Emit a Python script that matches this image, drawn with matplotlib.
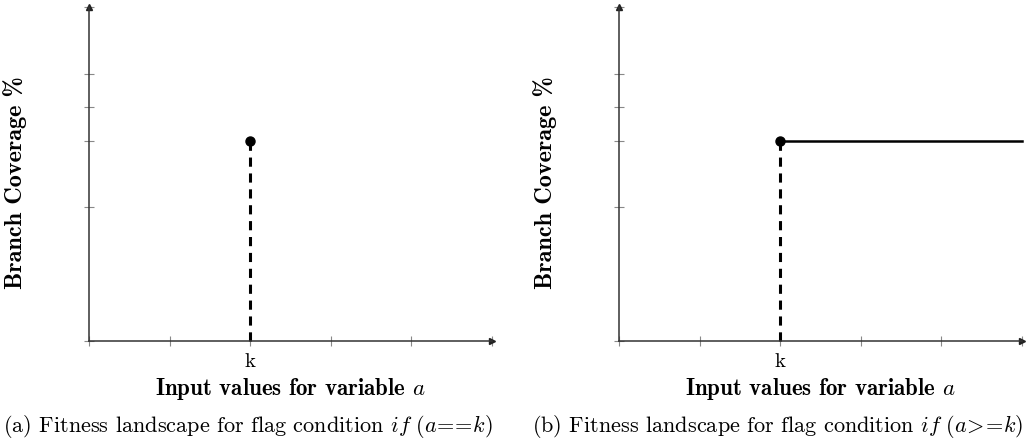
import matplotlib
matplotlib.use("Agg")
import matplotlib.pyplot as plt

plt.rcParams['font.family'] = ['cmr10', 'DejaVu Serif']
plt.rcParams['mathtext.fontset'] = 'cm'
plt.rcParams['axes.unicode_minus'] = False

# ---- data
x_ticks = [0, 1, 2, 3, 4, 5]
x_labels = ['', '', 'k', '', '', '']
y_ticks = [0, 40, 60, 70, 80, 100]
k_pos = 2
k_cov = 60
ge_x = [2, 5]          # a >= k : flat from k to end
ge_y = [60, 60]

# \! pulls back the extra space mathtext puts round = and >
captions = [r'(a) Fitness landscape for flag condition $\mathit{if\ (a\!=\!\!=\!k)}$',
            r'(b) Fitness landscape for flag condition $\mathit{if\ (a\!>\!\!=\!k)}$']

fig = plt.figure(figsize=(10.27, 4.45), dpi=100)
lefts = [89 / 1027, 619 / 1027]
bold = ['cmb10', 'DejaVu Serif']

for i, left in enumerate(lefts):
    ax = fig.add_axes([left, 104 / 445, 403 / 1027, 334 / 445])
    ax.set_xlim(0, 5)
    ax.set_ylim(0, 100)
    for s in ['top', 'right']:
        ax.spines[s].set_visible(False)
    for s in ['left', 'bottom']:
        ax.spines[s].set_color('#333333')
        ax.spines[s].set_linewidth(1.1)
    # arrow heads
    ax.plot(1, 0, '>', color='#222222', ms=4, transform=ax.get_yaxis_transform(), clip_on=False)
    ax.plot(0, 1, '^', color='#222222', ms=4, transform=ax.get_xaxis_transform(), clip_on=False)

    ax.set_xticks(x_ticks)
    ax.set_xticklabels(x_labels, fontsize=15)
    ax.set_yticks(y_ticks)
    ax.set_yticklabels([])
    ax.tick_params(direction='inout', length=7, width=0.8, color='#888888', pad=5)

    # dashed drop line and dot
    ax.plot([k_pos, k_pos], [0, k_cov], color='black', lw=2.2, ls=(0, (3, 2.2)), clip_on=False)
    if i == 1:
        ax.plot(ge_x, ge_y, color='black', lw=1.8, clip_on=False)
    ax.plot([k_pos], [k_cov], 'o', color='black', ms=6.5, clip_on=False, zorder=5)

    ax.set_xlabel(r'Input values for variable $a$', fontsize=16.5, fontweight='bold',
                  family=bold, labelpad=4)

    fig.text((left * 1027 - 74) / 1027, 1 - 183 / 445, 'Branch Coverage %', rotation=90,
             ha='center', va='center', fontsize=17.5, fontweight='bold', family=bold)

fig.text(248 / 1027, 1 - 426 / 445, captions[0], ha='center', va='center', fontsize=16)
fig.text(778 / 1027, 1 - 426 / 445, captions[1], ha='center', va='center', fontsize=16)

fig.savefig('out.png', dpi=100)
